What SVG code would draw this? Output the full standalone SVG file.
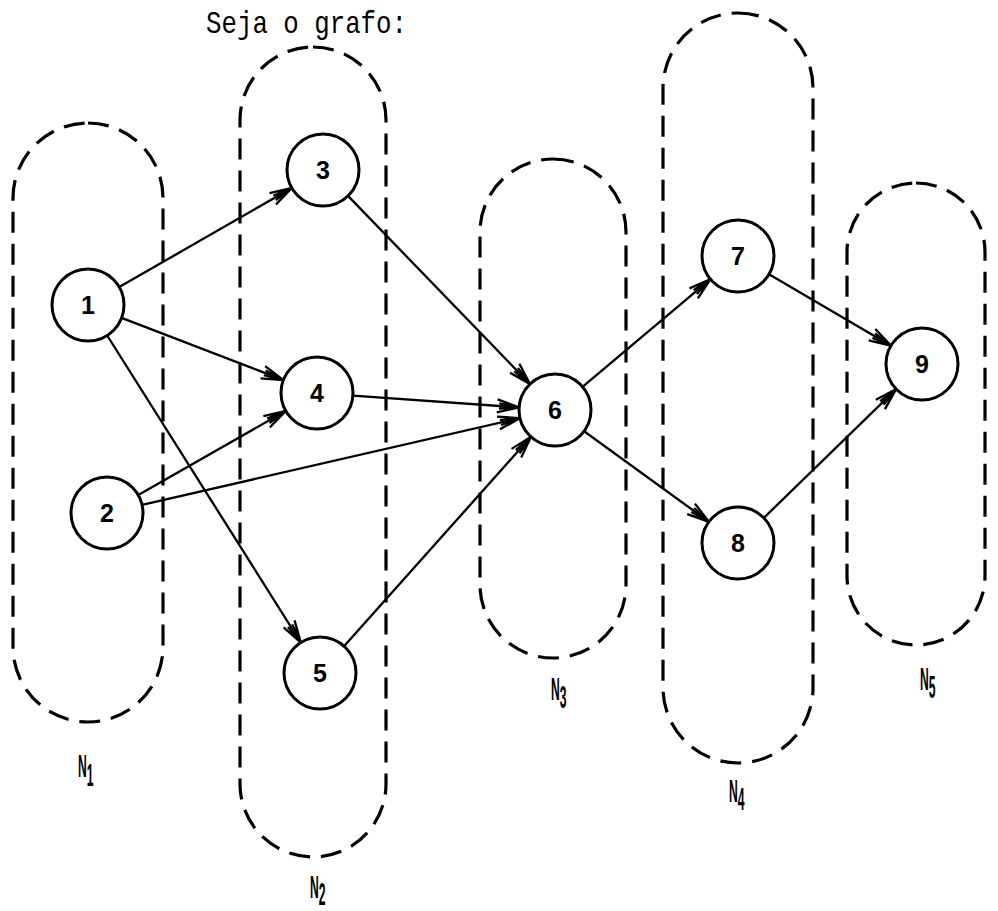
<svg xmlns="http://www.w3.org/2000/svg" width="998" height="911" viewBox="0 0 998 911">
<style>
.grp{fill:none;stroke:#000;stroke-width:3.2;stroke-dasharray:21 11;}
.nd{fill:#fff;stroke:#000;stroke-width:3;}
.lb{font-family:"Liberation Sans",Arial,sans-serif;font-weight:bold;font-size:25px;text-anchor:middle;}
.nl{font-family:"Liberation Sans",Arial,sans-serif;font-weight:bold;font-size:32px;fill:#000;}
.ed line{stroke:#000;stroke-width:2.3;marker-end:url(#ah);}
</style>
<defs>
<marker id="ah" markerUnits="userSpaceOnUse" markerWidth="30" markerHeight="20" viewBox="-24 -10 30 20" refX="0" refY="0" orient="auto">
<path d="M-22,-6.5 L0,0 L-22,6.5 M-20,-2.5 L0,0 L-20,2.5" fill="none" stroke="#000" stroke-width="2.3"/>
</marker>
</defs>
<rect width="998" height="911" fill="#fff"/>
<text x="206" y="33" font-family="'Liberation Mono',monospace" font-size="32" textLength="201" lengthAdjust="spacingAndGlyphs">Seja o grafo:</text>
<g id="groups">
<g id="N1"><rect class="grp" x="13" y="123" width="150" height="599" rx="75" ry="75"/><text class="nl" transform="translate(78,777) scale(0.38,1)">N<tspan dy="9">1</tspan></text></g>
<g id="N2"><rect class="grp" x="240" y="47" width="146" height="810" rx="73" ry="73"/><text class="nl" transform="translate(310,898) scale(0.38,1)">N<tspan dy="7">2</tspan></text></g>
<g id="N3"><rect class="grp" x="480" y="159" width="146" height="499" rx="73" ry="73"/><text class="nl" transform="translate(551,700) scale(0.38,1)">N<tspan dy="8">3</tspan></text></g>
<g id="N4"><rect class="grp" x="663" y="13" width="150" height="750" rx="75" ry="75"/><text class="nl" transform="translate(729,802) scale(0.38,1)">N<tspan dy="8">4</tspan></text></g>
<g id="N5"><rect class="grp" x="847" y="183" width="138" height="462" rx="69" ry="69"/><text class="nl" transform="translate(920,690) scale(0.38,1)">N<tspan dy="8">5</tspan></text></g>
</g>
<g id="edges" class="ed">
<line x1="119.2" y1="287.1" x2="291.8" y2="187.9"/>
<line x1="121.6" y1="317.9" x2="283.4" y2="380.1"/>
<line x1="107.2" y1="335.5" x2="300.8" y2="642.5"/>
<line x1="138.3" y1="495.1" x2="285.7" y2="410.9"/>
<line x1="142.1" y1="504.9" x2="519.9" y2="418.1"/>
<line x1="348.0" y1="195.9" x2="530.0" y2="384.1"/>
<line x1="352.9" y1="395.6" x2="519.1" y2="407.4"/>
<line x1="344.0" y1="646.2" x2="531.0" y2="436.8"/>
<line x1="582.5" y1="386.8" x2="710.5" y2="279.2"/>
<line x1="584.1" y1="431.2" x2="708.9" y2="521.8"/>
<line x1="769.0" y1="274.2" x2="891.0" y2="345.8"/>
<line x1="763.8" y1="517.9" x2="896.2" y2="389.1"/>
</g>
<g id="node1"><circle class="nd" cx="88" cy="305" r="36"/><text class="lb" x="88" y="314">1</text></g>
<g id="node2"><circle class="nd" cx="107" cy="513" r="36"/><text class="lb" x="107" y="522">2</text></g>
<g id="node3"><circle class="nd" cx="323" cy="170" r="36"/><text class="lb" x="323" y="179">3</text></g>
<g id="node4"><circle class="nd" cx="317" cy="393" r="36"/><text class="lb" x="317" y="402">4</text></g>
<g id="node5"><circle class="nd" cx="320" cy="673" r="36"/><text class="lb" x="320" y="682">5</text></g>
<g id="node6"><circle class="nd" cx="555" cy="410" r="36"/><text class="lb" x="555" y="419">6</text></g>
<g id="node7"><circle class="nd" cx="738" cy="256" r="36"/><text class="lb" x="738" y="265">7</text></g>
<g id="node8"><circle class="nd" cx="738" cy="543" r="36"/><text class="lb" x="738" y="552">8</text></g>
<g id="node9"><circle class="nd" cx="922" cy="364" r="36"/><text class="lb" x="922" y="373">9</text></g>
</svg>
